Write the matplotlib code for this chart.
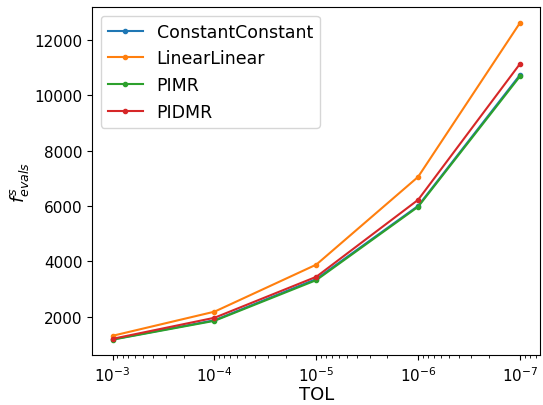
import matplotlib
matplotlib.use("Agg")
import matplotlib.pyplot as plt
import numpy as np

tol = [1e-3, 1e-4, 1e-5, 1e-6, 1e-7]
constant_constant = [1180, 1870, 3360, 6000, 10730]
linear_linear = [1310, 2180, 3880, 7050, 12610]
pimr = [1170, 1850, 3320, 5970, 10680]
pidmr = [1200, 1960, 3440, 6220, 11130]

fig, ax = plt.subplots(figsize=(5.43, 4.06), dpi=100)
ax.plot(tol, constant_constant, ".-", label="ConstantConstant")
ax.plot(tol, linear_linear, ".-", label="LinearLinear")
ax.plot(tol, pimr, ".-", label="PIMR")
ax.plot(tol, pidmr, ".-", label="PIDMR")
ax.set_xscale("log")
ax.invert_xaxis()
ax.tick_params(labelsize=11)
ax.set_xlabel("TOL", fontsize=13, labelpad=1)
ax.set_ylabel(r"$f^s_{evals}$", fontsize=13, labelpad=2)
ax.legend(fontsize=12.5, loc="upper left")
fig.subplots_adjust(left=0.17, right=0.995, top=0.98, bottom=0.122)
fig.savefig("out.png")
